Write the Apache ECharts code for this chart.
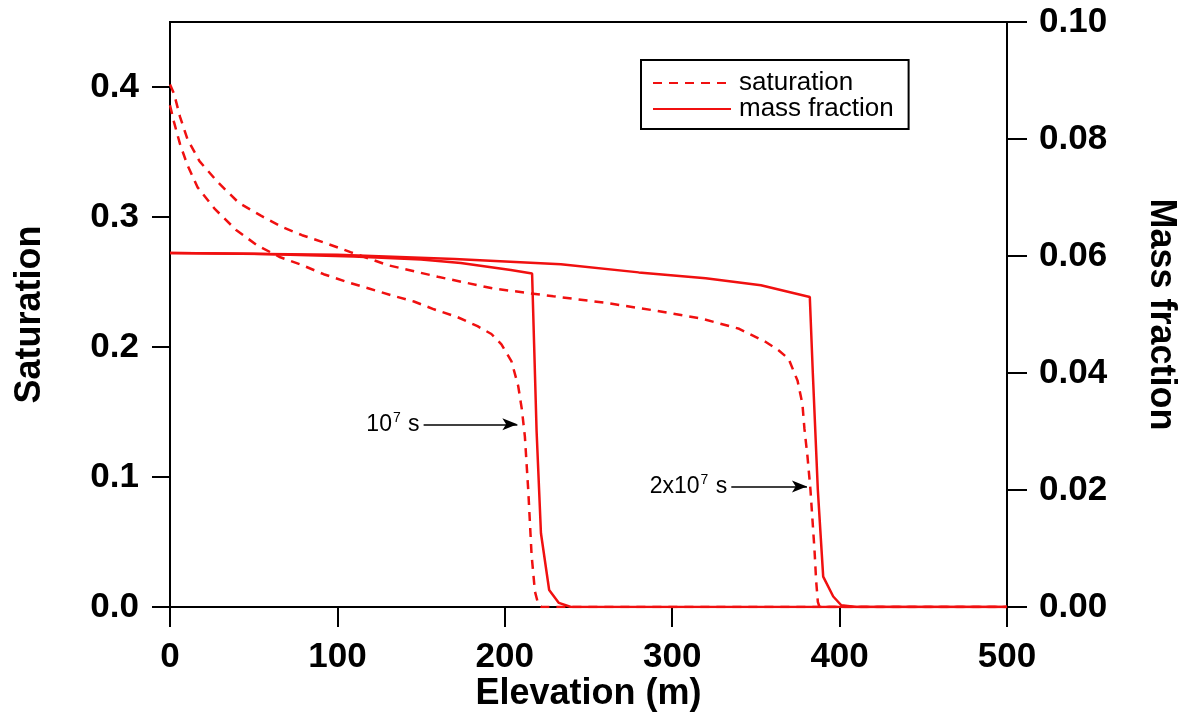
<!DOCTYPE html>
<html>
<head>
<meta charset="utf-8">
<script src="https://cdn.jsdelivr.net/npm/echarts@6/dist/echarts.min.js"></script>
<style>
html,body{margin:0;padding:0;background:#fff;}
#chart{width:1188px;height:721px;}
</style>
</head>
<body>
<div id="chart"></div>
<script>
// Elevation (m) vs saturation (left axis) and mass fraction (right axis)
const xTicks = [0, 100, 200, 300, 400, 500];
const saturation1e7 = [[0,0.386],[2.4,0.373],[6,0.356],[10.4,0.340],[16.4,0.323],[26.9,0.306],[39.5,0.290],[52.3,0.278],[65.9,0.269],[78.9,0.263],[91.8,0.256],[105.8,0.250],[118.8,0.245],[131.7,0.240],[145.7,0.235],[157.7,0.229],[171.7,0.223],[183.7,0.216],[192,0.210],[198,0.202],[204,0.189],[208,0.170],[210.2,0.152],[212,0.131],[214,0.09],[216,0.04],[218,0.012],[220,0.002],[222,0],[500,0]];
const saturation2e7 = [[0,0.402],[2.4,0.395],[6,0.377],[10.4,0.360],[17.6,0.343],[28.4,0.327],[41,0.311],[54.3,0.301],[67.5,0.292],[78.9,0.286],[92.8,0.280],[107.8,0.273],[130,0.263],[160,0.254],[193,0.245],[229,0.239],[260,0.234],[290,0.228],[317,0.222],[340,0.214],[355.7,0.204],[363,0.198],[369.5,0.191],[374.9,0.174],[377.8,0.156],[379,0.137],[380.8,0.116],[382.6,0.090],[383.8,0.067],[385,0.044],[386,0.02],[387,0.004],[388,0],[500,0]];
const massFraction1e7 = [[0,0.0605],[50,0.0604],[109.6,0.0599],[150,0.0594],[173.7,0.0588],[203.6,0.0576],[216.3,0.0570],[217.5,0.045],[219,0.03],[221.6,0.0126],[226.5,0.0029],[232.3,0.0007],[239.5,0],[500,0]];
const massFraction2e7 = [[0,0.0605],[100,0.0602],[170,0.0595],[233.5,0.0586],[280,0.0572],[320,0.0562],[353,0.0550],[382.2,0.0530],[384,0.04],[387,0.02],[390.2,0.0052],[396.2,0.0018],[401,0.0003],[410,0],[500,0]];
// annotation arrows: start point, end point (data coordinates)
const arrow1e7 = [[151.5,0.1405],[207.5,0.1405]];
const arrow2e7 = [[335.3,0.0927],[380.5,0.0927]];

const RED = '#f01010';
const FONT = '"Liberation Sans", Arial, Helvetica, sans-serif';
const chart = echarts.init(document.getElementById('chart'), null, {renderer:'canvas'});

const axisLabelStyle = {fontFamily: FONT, fontWeight:'bold', fontSize:35, color:'#000'};
const annLabel = (txt) => ({
  show:true, position:'start', distance:4,
  formatter: txt,
  fontFamily: FONT, color:'#000',
  rich:{
    b:{fontSize:23, fontFamily:FONT, color:'#000', lineHeight:26},
    s:{fontSize:14, fontFamily:FONT, color:'#000', padding:[0,1,12,1], lineHeight:26}
  }
});

chart.setOption({
  animation:false,
  backgroundColor:'#fff',
  grid:{left:170, right:181, top:22, bottom:114, show:true, borderColor:'#000', borderWidth:2},
  legend:{
    data:['saturation','mass fraction'],
    orient:'vertical', left:641, top:60,
    borderColor:'#000', borderWidth:2, padding:[10,15,7,11],
    itemWidth:78, itemHeight:14, itemGap:0,
    itemStyle:{opacity:0},
    textStyle:{fontFamily:FONT, fontSize:26, color:'#000', lineHeight:25, padding:[0,0,0,3]},
    selectedMode:false
  },
  xAxis:{
    type:'value', min:0, max:500, interval:100,
    name:'Elevation (m)', nameLocation:'middle', nameGap:69, nameMoveOverlap:false,
    nameTextStyle:{fontFamily:FONT, fontWeight:'bold', fontSize:36, color:'#000'},
    axisLine:{lineStyle:{color:'#000', width:2}},
    axisTick:{length:20, lineStyle:{color:'#000', width:2}},
    axisLabel:Object.assign({margin:33, formatter:(v)=> xTicks.includes(v) ? String(v) : ''}, axisLabelStyle),
    splitLine:{show:false}
  },
  yAxis:[{
    type:'value', min:0, max:0.45, interval:0.1, position:'left',
    name:'Saturation', nameLocation:'middle', nameGap:122, nameMoveOverlap:false,
    nameTextStyle:{fontFamily:FONT, fontWeight:'bold', fontSize:36, color:'#000'},
    axisLine:{show:true, lineStyle:{color:'#000', width:2}},
    axisTick:{length:18, lineStyle:{color:'#000', width:2}},
    axisLabel:Object.assign({margin:31, showMaxLabel:false, formatter:(v)=> v.toFixed(1)}, axisLabelStyle),
    splitLine:{show:false}
  },{
    type:'value', min:0, max:0.1, interval:0.02, position:'right',
    name:'Mass fraction', nameLocation:'middle', nameGap:136, nameRotate:-90, nameMoveOverlap:false,
    nameTextStyle:{fontFamily:FONT, fontWeight:'bold', fontSize:36, color:'#000'},
    axisLine:{show:true, lineStyle:{color:'#000', width:2}},
    axisTick:{length:20, lineStyle:{color:'#000', width:2}},
    axisLabel:Object.assign({margin:32, formatter:(v)=> v.toFixed(2)}, axisLabelStyle),
    splitLine:{show:false}
  }],
  series:[
    {name:'saturation', type:'line', yAxisIndex:0, data:saturation1e7, symbol:'none',
     lineStyle:{color:RED, width:2.5, type:[9,7]}, itemStyle:{color:RED},
     markLine:{silent:true, symbol:['none','arrow'], symbolSize:[9,15],
       lineStyle:{color:'#000', width:1.5, type:'solid'},
       label:annLabel('{b|10}{s|7}{b| s}'),
       data:[[{coord:arrow1e7[0]},{coord:arrow1e7[1]}]]}},
    {name:'saturation', type:'line', yAxisIndex:0, data:saturation2e7, symbol:'none',
     lineStyle:{color:RED, width:2.5, type:[9,7]}, itemStyle:{color:RED},
     markLine:{silent:true, symbol:['none','arrow'], symbolSize:[9,15],
       lineStyle:{color:'#000', width:1.5, type:'solid'},
       label:annLabel('{b|2x10}{s|7}{b| s}'),
       data:[[{coord:arrow2e7[0]},{coord:arrow2e7[1]}]]}},
    {name:'mass fraction', type:'line', yAxisIndex:1, data:massFraction1e7, symbol:'none',
     lineStyle:{color:RED, width:2.5}, itemStyle:{color:RED}},
    {name:'mass fraction', type:'line', yAxisIndex:1, data:massFraction2e7, symbol:'none',
     lineStyle:{color:RED, width:2.5}, itemStyle:{color:RED}}
  ]
});
</script>
</body>
</html>
